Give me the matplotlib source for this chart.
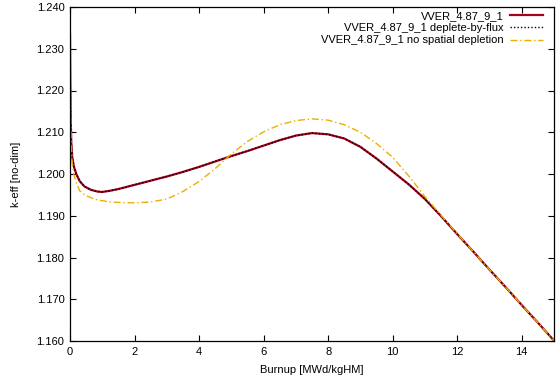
import matplotlib
matplotlib.use('Agg')
import matplotlib.pyplot as plt

# выгорание, MWd/kgHM
burnup = [0, 0.01, 0.02, 0.04, 0.07, 0.12, 0.2, 0.3, 0.45, 0.65, 0.85, 1.0,
          1.25, 1.5, 1.75, 2.0, 2.5, 3.0, 3.5, 4.0, 4.5, 5.0, 5.5, 6.0, 6.5,
          7.0, 7.5, 8.0, 8.5, 9.0, 9.5, 10.0, 10.5, 11.0, 11.5, 12.0, 12.5,
          13.0, 13.5, 14.0, 14.5, 15.0]

# VVER_4.87_9_1
keff_ref = [1.2335, 1.2220, 1.2140, 1.2075, 1.2040, 1.2018, 1.1999, 1.1983,
            1.1970, 1.1962, 1.1958, 1.1957, 1.1960, 1.1964, 1.1969, 1.1974,
            1.1984, 1.1994, 1.2005, 1.2017, 1.2030, 1.2043, 1.2055, 1.2068,
            1.2081, 1.2092, 1.2098, 1.2095, 1.2085, 1.2065, 1.2037, 1.2006,
            1.1975, 1.1940, 1.1899, 1.1856, 1.1814, 1.1771, 1.1729, 1.1686,
            1.1644, 1.1601]

# VVER_4.87_9_1 deplete-by-flux
keff_flux = [1.2335, 1.2220, 1.2140, 1.2075, 1.2040, 1.2018, 1.1999, 1.1983,
             1.1970, 1.1962, 1.1958, 1.1957, 1.1960, 1.1964, 1.1969, 1.1974,
             1.1984, 1.1994, 1.2005, 1.2017, 1.2030, 1.2043, 1.2055, 1.2068,
             1.2081, 1.2092, 1.2098, 1.2095, 1.2085, 1.2065, 1.2037, 1.2006,
             1.1975, 1.1940, 1.1899, 1.1856, 1.1814, 1.1771, 1.1729, 1.1686,
             1.1644, 1.1601]

# VVER_4.87_9_1 no spatial depletion
keff_nosp = [1.2335, 1.2220, 1.2135, 1.2065, 1.2025, 1.1998, 1.1978, 1.1960,
             1.1950, 1.1943, 1.1938, 1.1936, 1.1933, 1.1932, 1.1931, 1.1931,
             1.1933, 1.1940, 1.1958, 1.1982, 1.2013, 1.2048, 1.2078, 1.2101,
             1.2118, 1.2128, 1.2132, 1.2129, 1.2118, 1.2100, 1.2073, 1.2040,
             1.1995, 1.1946, 1.1901, 1.1857, 1.1814, 1.1771, 1.1729, 1.1686,
             1.1644, 1.1601]

x_ticks = [0, 2, 4, 6, 8, 10, 12, 14]
y_ticks = [1.160, 1.170, 1.180, 1.190, 1.200, 1.210, 1.220, 1.230, 1.240]

plt.rcParams['font.family'] = ['Liberation Sans', 'DejaVu Sans']
plt.rcParams['font.size'] = 8

fig = plt.figure(figsize=(5.58, 3.79), dpi=100)
ax = fig.add_axes([70 / 558, 1 - 341 / 379, 484 / 558, 334 / 379])

ax.plot(burnup, keff_ref, color='#a8001c', lw=1.6, label='VVER_4.87_9_1')
ax.plot(burnup, keff_flux, color='black', lw=1.0, ls=(0, (1, 1.5)),
        label='VVER_4.87_9_1 deplete-by-flux')
ax.plot(burnup, keff_nosp, color='#eab000', lw=1.0, ls=(0, (5, 2, 1, 2)),
        label='VVER_4.87_9_1 no spatial depletion')

ax.set_xlim(0, 15)
ax.set_ylim(1.160, 1.240)
ax.set_xticks(x_ticks)
ax.set_yticks(y_ticks)
ax.set_xticklabels([str(v) for v in x_ticks])
ax.set_yticklabels(['%.3f' % v for v in y_ticks])
ax.tick_params(direction='in', length=4, width=0.8, top=True, right=True,
               pad=4, colors='black')
for s in ax.spines.values():
    s.set_linewidth(0.9)

ax.set_xlabel('Burnup [MWd/kgHM]', labelpad=6)
ax.set_ylabel('k-eff [no-dim]', labelpad=11)

# легенда в стиле gnuplot: текст справа налево, образец линии справа
leg = ax.legend(loc='upper right', frameon=False, markerfirst=False,
                handlelength=3.0, handletextpad=0.55, labelspacing=0.2,
                borderpad=0, borderaxespad=0,
                bbox_to_anchor=(543 / 558, 1 - 11 / 379),
                bbox_transform=fig.transFigure, fontsize=8)

fig.savefig('out.png', dpi=100)
